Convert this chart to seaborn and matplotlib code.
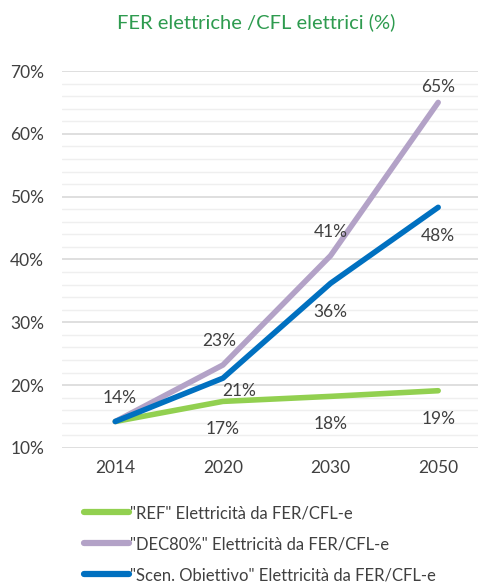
import matplotlib
matplotlib.use("Agg")
import matplotlib.pyplot as plt
import seaborn as sns
import pandas as pd
from matplotlib.ticker import MultipleLocator, FuncFormatter

years = ["2014", "2020", "2030", "2050"]
ref_vals = [14.2, 17.4, 18.2, 19.1]
dec_vals = [14.2, 23.2, 40.6, 65.0]
obj_vals = [14.2, 21.1, 36.2, 48.3]
series_names = ['"REF" Elettricità da FER/CFL-e',
                '"DEC80%" Elettricità da FER/CFL-e',
                '"Scen. Obiettivo" Elettricità da FER/CFL-e']
ref_labels = ["", "17%", "18%", "19%"]
dec_labels = ["14%", "23%", "41%", "65%"]
obj_labels = ["", "21%", "36%", "48%"]
colors = ["#92d050", "#b3a2c7", "#0070c0"]

sns.set_theme(style="white")
plt.rcParams['font.family'] = ['Lato', 'DejaVu Sans']

rows = []
for name, vals in zip(series_names, [ref_vals, dec_vals, obj_vals]):
    for i, (y, v) in enumerate(zip(years, vals)):
        rows.append({"idx": i, "year": y, "val": v, "series": name})
df = pd.DataFrame(rows)

fig = plt.figure(figsize=(4.78, 5.87), dpi=100)
ax = fig.add_axes([0.13, 0.237, 0.87, 0.642])

sns.lineplot(data=df, x="idx", y="val", hue="series", palette=colors,
             hue_order=series_names, linewidth=4.0, ax=ax, legend=False,
             sort=False)

ax.set_ylim(10, 70)
ax.set_xlim(-0.494, 3.37)
ax.yaxis.set_major_locator(MultipleLocator(10))
ax.yaxis.set_minor_locator(MultipleLocator(2))
ax.yaxis.set_major_formatter(FuncFormatter(lambda v, p: f"{int(v)}%"))
ax.set_xticks(range(len(years)))
ax.set_xticklabels(years)
ax.grid(axis="y", which="major", color="#d9d9d9", linewidth=1.2)
ax.grid(axis="y", which="minor", color="#efefef", linewidth=1.0)
ax.set_axisbelow(True)
for s in ax.spines.values():
    s.set_visible(False)
ax.tick_params(axis="both", which="both", length=0, labelsize=12.5, colors="#404040")
ax.tick_params(axis="y", pad=13)
ax.tick_params(axis="x", pad=9)
ax.set_xlabel("")
ax.set_ylabel("")

txt = dict(ha="center", va="center", fontsize=12.5, color="#404040")
# REF labels below
for i, l in enumerate(ref_labels):
    if l:
        ax.annotate(l, (i, ref_vals[i]), xytext=(0, -20), textcoords="offset points", **txt)
# DEC labels above
for i, l in enumerate(dec_labels):
    if l:
        dx = 3 if i == 0 else (-3 if i == 1 else 0)
        dy = 17 if i < 3 else 11
        ax.annotate(l, (i, dec_vals[i]), xytext=(dx, dy), textcoords="offset points", **txt)
# Objective labels
for i, l in enumerate(obj_labels):
    if l:
        if i == 1:
            off = (12, -9)
        else:
            off = (0, -21)
        ax.annotate(l, (i, obj_vals[i]), xytext=off, textcoords="offset points", **txt)

fig.text(0.536, 0.962, "FER elettriche /CFL elettrici (%)", ha="center", va="center",
         fontsize=14.5, color="#2e9b4f")

from matplotlib.lines import Line2D
handles = [Line2D([0], [0], color=c, linewidth=4.5, solid_capstyle="round") for c in colors]
fig.legend(handles, series_names, loc="upper left", bbox_to_anchor=(0.158, 0.1535),
           frameon=False, fontsize=12, handlelength=2.7, handletextpad=0.05,
           labelspacing=0.9, borderpad=0, labelcolor="#404040")

fig.savefig("out.png", dpi=100)
